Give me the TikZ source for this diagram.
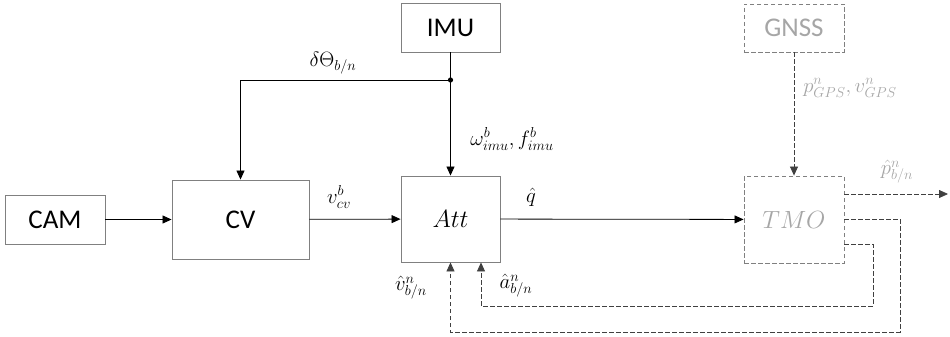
\documentclass[tikz,border=0pt]{standalone}
\usepackage{fontspec}
\setsansfont{Carlito}
\usetikzlibrary{arrows.meta}
\definecolor{boxgray}{HTML}{808080}
\definecolor{txtgray}{HTML}{A6A6A6}
\begin{document}
\begin{tikzpicture}[x=1pt,y=-1pt,
  blk/.style={draw=boxgray,line width=0.9pt,rectangle,inner sep=0pt,font=\sffamily\fontsize{27}{30}\selectfont},
  dblk/.style={blk,dashed,dash pattern=on 4.5pt off 2.5pt,draw=boxgray},
  arr/.style={line width=0.8pt,-{Triangle[length=9pt,width=8pt]}},
  dl/.style={line width=0.8pt,dash pattern=on 4.5pt off 2.5pt,draw=black!75},
  lab/.style={inner sep=0pt,font=\fontsize{22}{26}\selectfont},
  glab/.style={lab,text=txtgray}]
\useasboundingbox (0,0) rectangle (950,337);
\node[blk,minimum width=100pt,minimum height=49pt] (cam) at (55,219.5) {CAM};
\node[blk,minimum width=137pt,minimum height=79pt] (cv) at (240.5,219.5) {CV};
\node[blk,minimum width=99pt,minimum height=49pt] (imu) at (450.5,27.5) {IMU};
\node[blk,minimum width=99pt,minimum height=86pt,font=\fontsize{30}{34}\selectfont] (att) at (450.5,219) {$Att$};
\node[dblk,minimum width=100pt,minimum height=87pt,text=txtgray,font=\fontsize{30}{34}\selectfont] (tmo) at (794,219.5) {$TMO$};
\node[dblk,minimum width=100pt,minimum height=48pt,text=txtgray] (gnss) at (794,28) {GNSS};
\coordinate (j) at (450.5,80);
\coordinate (jl) at (240.5,80);
\coordinate (pe) at (948,194);
\coordinate (o1) at (900,219);
\coordinate (o2) at (900,332);
\coordinate (o3) at (450.5,332);
\coordinate (i1) at (873,244);
\coordinate (i2) at (873,306);
\coordinate (i3) at (481,306);
\draw[arr] (cam) -- (cv);
\draw[arr] (cv) -- (att);
\draw[arr] (att) -- (tmo);
\draw[arr] (imu) -- (att);
\fill (j) circle (2.6pt);
\draw[arr] (j) -- (jl) -- (cv.north);
\draw[arr,dl] (gnss) -- (tmo);
\draw[arr,dl] (tmo.east |- pe) -- (pe);
\draw[arr,dl] (tmo.east |- o1) -- (o1) -- (o2) -- (o3) -- (att.south);
\draw[arr,dl] (tmo.east |- i1) -- (i1) -- (i2) -- (i3) -- (i3 |- att.south);
\node[lab] (ldt) at (333,63) {$\delta\Theta_{b/n}$};
\node[lab] (lwf) at (512,139) {$\omega_{imu}^{b},f_{imu}^{b}$};
\node[lab] (lvcv) at (339,197) {$v_{cv}^{b}$};
\node[lab] (lq) at (531,197) {$\hat{q}$};
\node[lab] (lv) at (411,288) {$\hat{v}_{b/n}^{n}$};
\node[lab] (la) at (516,286) {$\hat{a}_{b/n}^{n}$};
\node[glab] (lgps) at (850,88) {$p_{GPS}^{n},v_{GPS}^{n}$};
\node[glab] (lp) at (897,172) {$\hat{p}_{b/n}^{n}$};
\end{tikzpicture}
\end{document}
